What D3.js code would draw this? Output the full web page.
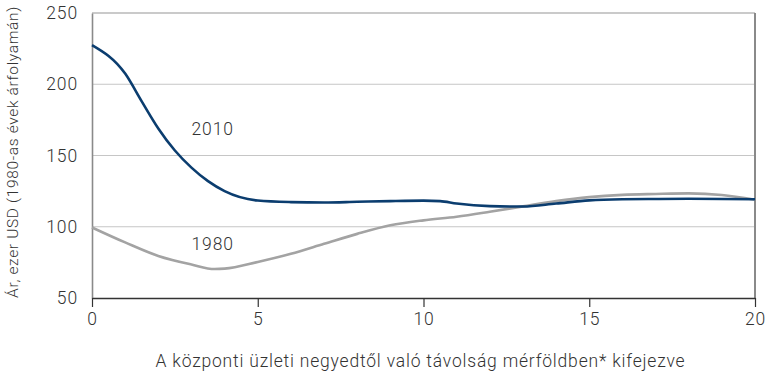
<!DOCTYPE html>
<html>
<head>
<meta charset="utf-8">
<script src="https://cdn.jsdelivr.net/npm/d3@7"></script>
<style>
  html, body { margin: 0; padding: 0; background: #fff; }
  svg { display: block; }
  text { font-family: Roboto, "Noto Sans", sans-serif; font-weight: 300; fill: #333; }
</style>
</head>
<body>
<svg id="chart" width="767" height="376"></svg>
<script>
// Distance from the central business district, in miles
const distance2010 = [0, 1, 1.5, 2, 2.5, 3, 3.5, 4, 5, 6, 7, 8, 9, 10, 10.5, 11, 12, 13, 14, 15, 16, 17, 18, 19, 20];
// House price, thousand USD (1980s prices), 2010
const price2010 = [227.5, 207.5, 188, 169, 153.5, 141.5, 132, 125, 118.4, 117.3, 117, 117.5, 118, 118.3, 118, 116.3, 114.5, 114.2, 116.3, 118.5, 119.3, 119.5, 119.6, 119.5, 119.3];

const distance1980 = [0, 1, 2, 3, 3.7, 4, 5, 6, 7, 8, 9, 10, 11, 12, 13, 14, 15, 16, 17, 18, 19, 20];
const price1980 = [99.5, 89, 79.5, 73.5, 70.3, 70.6, 75.3, 81, 88, 95, 101, 104.5, 107, 110.5, 114.3, 118, 120.8, 122.4, 123, 123.4, 122.3, 119];

const xTicks = [0, 5, 10, 15, 20];
const yTicks = [50, 100, 150, 200, 250];

const xTitle = "A központi üzleti negyedtől való távolság mérföldben* kifejezve";
const yTitle = "Ár, ezer USD (1980-as évek árfolyamán)";

const W = 767, H = 376;
const margin = { top: 13, right: 12, bottom: 78, left: 92 };
const iw = W - margin.left - margin.right;
const ih = H - margin.top - margin.bottom;

const svg = d3.select("#chart");
const g = svg.append("g").attr("transform", `translate(${margin.left},${margin.top})`);

const x = d3.scaleLinear().domain([0, 20]).range([0, iw]);
const y = d3.scaleLinear().domain([50, 250]).range([ih, 0]);

// horizontal gridlines
g.append("g")
  .selectAll("line")
  .data(yTicks.filter(v => v > 50 && v < 250))
  .join("line")
  .attr("x1", 0).attr("x2", iw)
  .attr("y1", d => y(d)).attr("y2", d => y(d))
  .attr("stroke", "#c6c6c6").attr("stroke-width", 1.2);

// frame: top and right edges
g.append("line").attr("x1", 0).attr("x2", iw).attr("y1", y(250)).attr("y2", y(250))
  .attr("stroke", "#b8b8b8").attr("stroke-width", 1.4);
g.append("line").attr("x1", iw).attr("x2", iw).attr("y1", y(250)).attr("y2", ih)
  .attr("stroke", "#8a8a8a").attr("stroke-width", 2);

const tickFont = sel => sel
  .style("font-family", "Roboto, sans-serif")
  .style("font-weight", "300")
  .style("font-size", "17.5px")
  .style("letter-spacing", "0.9px")
  .attr("fill", "#333");

// y axis: labels only, with a grey spine
const yAxis = g.append("g")
  .call(d3.axisLeft(y).tickValues(yTicks).tickSize(0).tickPadding(14));
yAxis.select(".domain").attr("stroke", "#8a8a8a").attr("stroke-width", 1.6);
yAxis.selectAll("text").call(tickFont);

// x axis
const xAxis = g.append("g").attr("transform", `translate(0,${ih})`)
  .call(d3.axisBottom(x).tickValues(xTicks).tickSize(9).tickPadding(6).tickSizeOuter(0));
xAxis.select(".domain").attr("stroke", "#333").attr("stroke-width", 1.4);
xAxis.selectAll(".tick line").attr("stroke", "#333").attr("stroke-width", 1.2);
xAxis.selectAll("text").call(tickFont);

// series
const line = d3.line().curve(d3.curveMonotoneX).x(d => x(d[0])).y(d => y(d[1]));

g.append("path")
  .datum(d3.zip(distance1980, price1980))
  .attr("d", line)
  .attr("fill", "none").attr("stroke", "#a3a3a3").attr("stroke-width", 2.6);

g.append("path")
  .datum(d3.zip(distance2010, price2010))
  .attr("d", line)
  .attr("fill", "none").attr("stroke", "#0b3d6f").attr("stroke-width", 2.6);

// series labels
g.append("text").attr("x", x(3.0)).attr("y", y(168.5)).attr("dy", "0.35em")
  .style("font-size", "17.5px").style("letter-spacing", "0.9px").text("2010");
g.append("text").attr("x", x(3.0)).attr("y", y(88)).attr("dy", "0.35em")
  .style("font-size", "17.5px").style("letter-spacing", "0.9px").text("1980");

// axis titles
svg.append("text")
  .attr("x", margin.left + iw / 2 - 3).attr("y", 361).attr("dy", "0.35em")
  .attr("text-anchor", "middle").style("font-size", "17.5px").style("letter-spacing", "0.8px")
  .text(xTitle);

svg.append("text")
  .attr("transform", `translate(13,${152}) rotate(-90)`)
  .attr("dy", "0.35em")
  .attr("text-anchor", "middle").style("font-size", "15.5px").style("letter-spacing", "0.65px")
  .text(yTitle);
</script>
</body>
</html>
